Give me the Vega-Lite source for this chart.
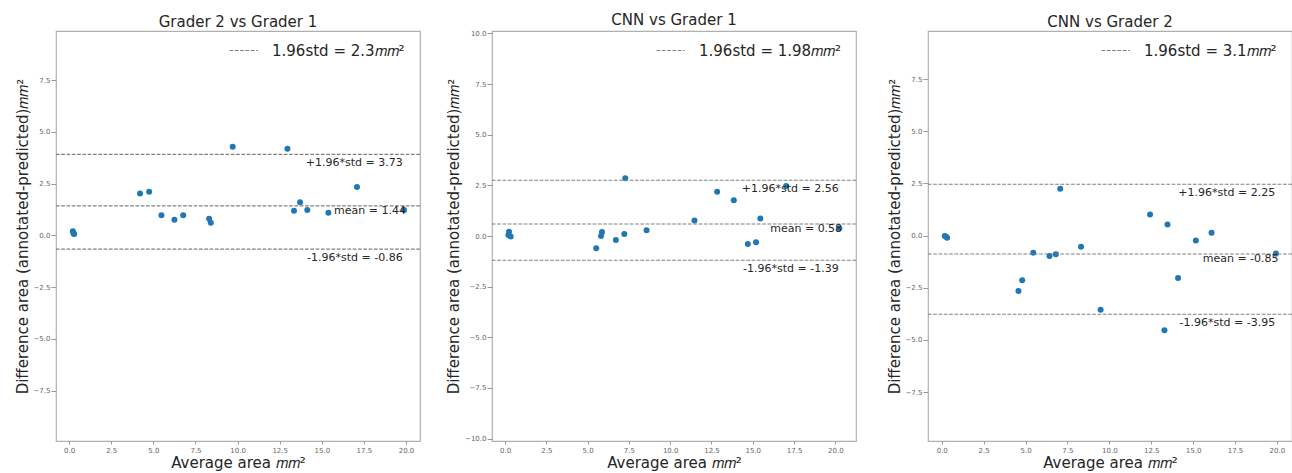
{
  "$schema": "https://vega.github.io/schema/vega-lite/v6.json",
  "padding": {"left": 14, "top": 12, "right": 0, "bottom": 0},
  "bounds": "flush",
  "spacing": 72,
  "datasets": {
    "pts": [
      {"p": 1, "avg": 0.22, "diff": 0.21}, {"p": 1, "avg": 0.26, "diff": 0.1}, {"p": 1, "avg": 0.3, "diff": 0.07},
      {"p": 1, "avg": 4.21, "diff": 2.03}, {"p": 1, "avg": 4.75, "diff": 2.11}, {"p": 1, "avg": 5.48, "diff": 0.98},
      {"p": 1, "avg": 6.25, "diff": 0.76}, {"p": 1, "avg": 6.77, "diff": 0.98}, {"p": 1, "avg": 8.31, "diff": 0.81},
      {"p": 1, "avg": 8.41, "diff": 0.61}, {"p": 1, "avg": 9.71, "diff": 4.29}, {"p": 1, "avg": 12.96, "diff": 4.19},
      {"p": 1, "avg": 13.35, "diff": 1.19}, {"p": 1, "avg": 13.71, "diff": 1.61}, {"p": 1, "avg": 14.14, "diff": 1.23},
      {"p": 1, "avg": 15.39, "diff": 1.1}, {"p": 1, "avg": 17.09, "diff": 2.34}, {"p": 1, "avg": 19.88, "diff": 1.23},
      {"p": 2, "avg": 0.24, "diff": 0.21}, {"p": 2, "avg": 0.2, "diff": 0.05}, {"p": 2, "avg": 0.34, "diff": -0.02},
      {"p": 2, "avg": 5.52, "diff": -0.61}, {"p": 2, "avg": 5.81, "diff": 0.0}, {"p": 2, "avg": 5.87, "diff": 0.2},
      {"p": 2, "avg": 6.71, "diff": -0.2}, {"p": 2, "avg": 7.22, "diff": 0.1}, {"p": 2, "avg": 7.28, "diff": 2.85},
      {"p": 2, "avg": 8.57, "diff": 0.28}, {"p": 2, "avg": 11.47, "diff": 0.76}, {"p": 2, "avg": 12.84, "diff": 2.19},
      {"p": 2, "avg": 13.85, "diff": 1.76}, {"p": 2, "avg": 14.7, "diff": -0.4}, {"p": 2, "avg": 15.2, "diff": -0.31},
      {"p": 2, "avg": 15.46, "diff": 0.86}, {"p": 2, "avg": 17.02, "diff": 2.47}, {"p": 2, "avg": 20.24, "diff": 0.38},
      {"p": 3, "avg": 0.18, "diff": -0.02}, {"p": 3, "avg": 0.32, "diff": -0.1}, {"p": 3, "avg": 0.26, "diff": -0.06},
      {"p": 3, "avg": 4.58, "diff": -2.65}, {"p": 3, "avg": 4.8, "diff": -2.14}, {"p": 3, "avg": 5.46, "diff": -0.82},
      {"p": 3, "avg": 6.43, "diff": -0.98}, {"p": 3, "avg": 6.81, "diff": -0.9}, {"p": 3, "avg": 7.07, "diff": 2.24},
      {"p": 3, "avg": 8.31, "diff": -0.54}, {"p": 3, "avg": 9.48, "diff": -3.55}, {"p": 3, "avg": 12.43, "diff": 1.01},
      {"p": 3, "avg": 13.29, "diff": -4.54}, {"p": 3, "avg": 13.47, "diff": 0.53}, {"p": 3, "avg": 14.1, "diff": -2.03},
      {"p": 3, "avg": 15.16, "diff": -0.24}, {"p": 3, "avg": 16.1, "diff": 0.13}, {"p": 3, "avg": 19.94, "diff": -0.86}
    ],
    "lines": [
      {"p": 1, "kind": "bound", "value": 3.92, "label": "+1.96*std = 3.73", "legend": "1.96std = 2.3𝑚𝑚²"},
      {"p": 1, "kind": "mean", "value": 1.43, "label": "mean = 1.44", "legend": "1.96std = 2.3𝑚𝑚²"},
      {"p": 1, "kind": "bound", "value": -0.66, "label": "-1.96*std = -0.86", "legend": "1.96std = 2.3𝑚𝑚²"},
      {"p": 2, "kind": "bound", "value": 2.75, "label": "+1.96*std = 2.56", "legend": "1.96std = 1.98𝑚𝑚²"},
      {"p": 2, "kind": "mean", "value": 0.59, "label": "mean = 0.58", "legend": "1.96std = 1.98𝑚𝑚²"},
      {"p": 2, "kind": "bound", "value": -1.2, "label": "-1.96*std = -1.39", "legend": "1.96std = 1.98𝑚𝑚²"},
      {"p": 3, "kind": "bound", "value": 2.46, "label": "+1.96*std = 2.25", "legend": "1.96std = 3.1𝑚𝑚²"},
      {"p": 3, "kind": "mean", "value": -0.88, "label": "mean = -0.85", "legend": "1.96std = 3.1𝑚𝑚²"},
      {"p": 3, "kind": "bound", "value": -3.77, "label": "-1.96*std = -3.95", "legend": "1.96std = 3.1𝑚𝑚²"}
    ]
  },
  "resolve": {"scale": {"strokeDash": "independent"}, "legend": {"strokeDash": "independent"}},
  "hconcat": [
    {
      "width": 364, "height": 410,
      "title": "Grader 2 vs Grader 1",
      "layer": [
        {"data": {"name": "pts"}, "transform": [{"filter": "datum.p == 1"}],
         "mark": {"type": "point", "filled": true, "size": 36, "color": "#1f77b4", "opacity": 1},
         "encoding": {
           "x": {"field": "avg", "type": "quantitative", "scale": {"domain": [-0.78, 20.83], "nice": false, "zero": false}, "axis": {"values": [0, 2.5, 5, 7.5, 10, 12.5, 15, 17.5, 20], "format": ".1f", "title": "Average area 𝑚𝑚²"}},
           "y": {"field": "diff", "type": "quantitative", "scale": {"domain": [-9.93, 9.88], "nice": false, "zero": false}, "axis": {"values": [-7.5, -5, -2.5, 0, 2.5, 5, 7.5], "format": ".1f", "title": "Difference area (annotated-predicted)𝑚𝑚²"}}
         }},
        {"data": {"name": "lines"}, "transform": [{"filter": "datum.p == 1"}],
         "mark": {"type": "rule", "color": "gray", "strokeWidth": 1.1},
         "encoding": {
           "y": {"field": "value", "type": "quantitative"},
           "strokeDash": {"field": "legend", "type": "nominal", "scale": {"range": [[3.7, 1.6]]}, "legend": {"title": null, "orient": "none", "legendX": 173, "legendY": 5}}
         }},
        {"data": {"name": "lines"}, "transform": [{"filter": "datum.p == 1 && datum.kind == 'bound'"}],
         "mark": {"type": "text", "align": "right", "baseline": "middle", "dy": 9, "fontSize": 11, "color": "#262626"},
         "encoding": {"x": {"datum": 19.8}, "y": {"field": "value", "type": "quantitative"}, "text": {"field": "label"}}},
        {"data": {"name": "lines"}, "transform": [{"filter": "datum.p == 1 && datum.kind == 'mean'"}],
         "mark": {"type": "text", "align": "right", "baseline": "middle", "dy": 5, "fontSize": 11, "color": "#262626"},
         "encoding": {"x": {"datum": 20.0}, "y": {"field": "value", "type": "quantitative"}, "text": {"field": "label"}}}
      ]
    },
    {
      "width": 364, "height": 410,
      "title": "CNN vs Grader 1",
      "layer": [
        {"data": {"name": "pts"}, "transform": [{"filter": "datum.p == 2"}],
         "mark": {"type": "point", "filled": true, "size": 36, "color": "#1f77b4", "opacity": 1},
         "encoding": {
           "x": {"field": "avg", "type": "quantitative", "scale": {"domain": [-0.79, 21.25], "nice": false, "zero": false}, "axis": {"values": [0, 2.5, 5, 7.5, 10, 12.5, 15, 17.5, 20], "format": ".1f", "title": "Average area 𝑚𝑚²"}},
           "y": {"field": "diff", "type": "quantitative", "scale": {"domain": [-10.12, 10.12], "nice": false, "zero": false}, "axis": {"values": [-10, -7.5, -5, -2.5, 0, 2.5, 5, 7.5, 10], "format": ".1f", "title": "Difference area (annotated-predicted)𝑚𝑚²"}}
         }},
        {"data": {"name": "lines"}, "transform": [{"filter": "datum.p == 2"}],
         "mark": {"type": "rule", "color": "gray", "strokeWidth": 1.1},
         "encoding": {
           "y": {"field": "value", "type": "quantitative"},
           "strokeDash": {"field": "legend", "type": "nominal", "scale": {"range": [[3.7, 1.6]]}, "legend": {"title": null, "orient": "none", "legendX": 164, "legendY": 5}}
         }},
        {"data": {"name": "lines"}, "transform": [{"filter": "datum.p == 2 && datum.kind == 'bound'"}],
         "mark": {"type": "text", "align": "right", "baseline": "middle", "dy": 9, "fontSize": 11, "color": "#262626"},
         "encoding": {"x": {"datum": 20.2}, "y": {"field": "value", "type": "quantitative"}, "text": {"field": "label"}}},
        {"data": {"name": "lines"}, "transform": [{"filter": "datum.p == 2 && datum.kind == 'mean'"}],
         "mark": {"type": "text", "align": "right", "baseline": "middle", "dy": 5, "fontSize": 11, "color": "#262626"},
         "encoding": {"x": {"datum": 20.41}, "y": {"field": "value", "type": "quantitative"}, "text": {"field": "label"}}}
      ]
    },
    {
      "width": 364, "height": 410,
      "title": "CNN vs Grader 2",
      "layer": [
        {"data": {"name": "pts"}, "transform": [{"filter": "datum.p == 3"}],
         "mark": {"type": "point", "filled": true, "size": 36, "color": "#1f77b4", "opacity": 1},
         "encoding": {
           "x": {"field": "avg", "type": "quantitative", "scale": {"domain": [-0.82, 20.9], "nice": false, "zero": false}, "axis": {"values": [0, 2.5, 5, 7.5, 10, 12.5, 15, 17.5, 20], "format": ".1f", "title": "Average area 𝑚𝑚²"}},
           "y": {"field": "diff", "type": "quantitative", "scale": {"domain": [-9.84, 9.8], "nice": false, "zero": false}, "axis": {"values": [-7.5, -5, -2.5, 0, 2.5, 5, 7.5], "format": ".1f", "title": "Difference area (annotated-predicted)𝑚𝑚²"}}
         }},
        {"data": {"name": "lines"}, "transform": [{"filter": "datum.p == 3"}],
         "mark": {"type": "rule", "color": "gray", "strokeWidth": 1.1},
         "encoding": {
           "y": {"field": "value", "type": "quantitative"},
           "strokeDash": {"field": "legend", "type": "nominal", "scale": {"range": [[3.7, 1.6]]}, "legend": {"title": null, "orient": "none", "legendX": 173, "legendY": 5}}
         }},
        {"data": {"name": "lines"}, "transform": [{"filter": "datum.p == 3 && datum.kind == 'bound'"}],
         "mark": {"type": "text", "align": "right", "baseline": "middle", "dy": 9, "fontSize": 11, "color": "#262626"},
         "encoding": {"x": {"datum": 19.9}, "y": {"field": "value", "type": "quantitative"}, "text": {"field": "label"}}},
        {"data": {"name": "lines"}, "transform": [{"filter": "datum.p == 3 && datum.kind == 'mean'"}],
         "mark": {"type": "text", "align": "right", "baseline": "middle", "dy": 5, "fontSize": 11, "color": "#262626"},
         "encoding": {"x": {"datum": 20.1}, "y": {"field": "value", "type": "quantitative"}, "text": {"field": "label"}}}
      ]
    }
  ],
  "config": {
    "font": "DejaVu Sans",
    "view": {"stroke": "#b0b0b0", "strokeWidth": 1.2},
    "axis": {"domain": false, "grid": false, "tickColor": "#999999", "tickSize": 5, "labelFontSize": 7, "labelColor": "#666666", "labelPadding": 1, "titleFontSize": 15, "titleFontWeight": "normal", "titleColor": "#262626", "titlePadding": 3, "labelFont": "DejaVu Sans", "titleFont": "DejaVu Sans"},
    "axisX": {"tickSize": 3, "labelPadding": 2, "titlePadding": 2},
    "title": {"fontSize": 15, "fontWeight": "normal", "color": "#262626", "offset": 1, "font": "DejaVu Sans"},
    "legend": {"symbolType": "stroke", "symbolSize": 784, "symbolStrokeColor": "gray", "symbolStrokeWidth": 1, "labelFontSize": 15, "labelColor": "#262626", "labelOffset": 14, "padding": 0, "labelFont": "DejaVu Sans", "labelLimit": 400}
  }
}
